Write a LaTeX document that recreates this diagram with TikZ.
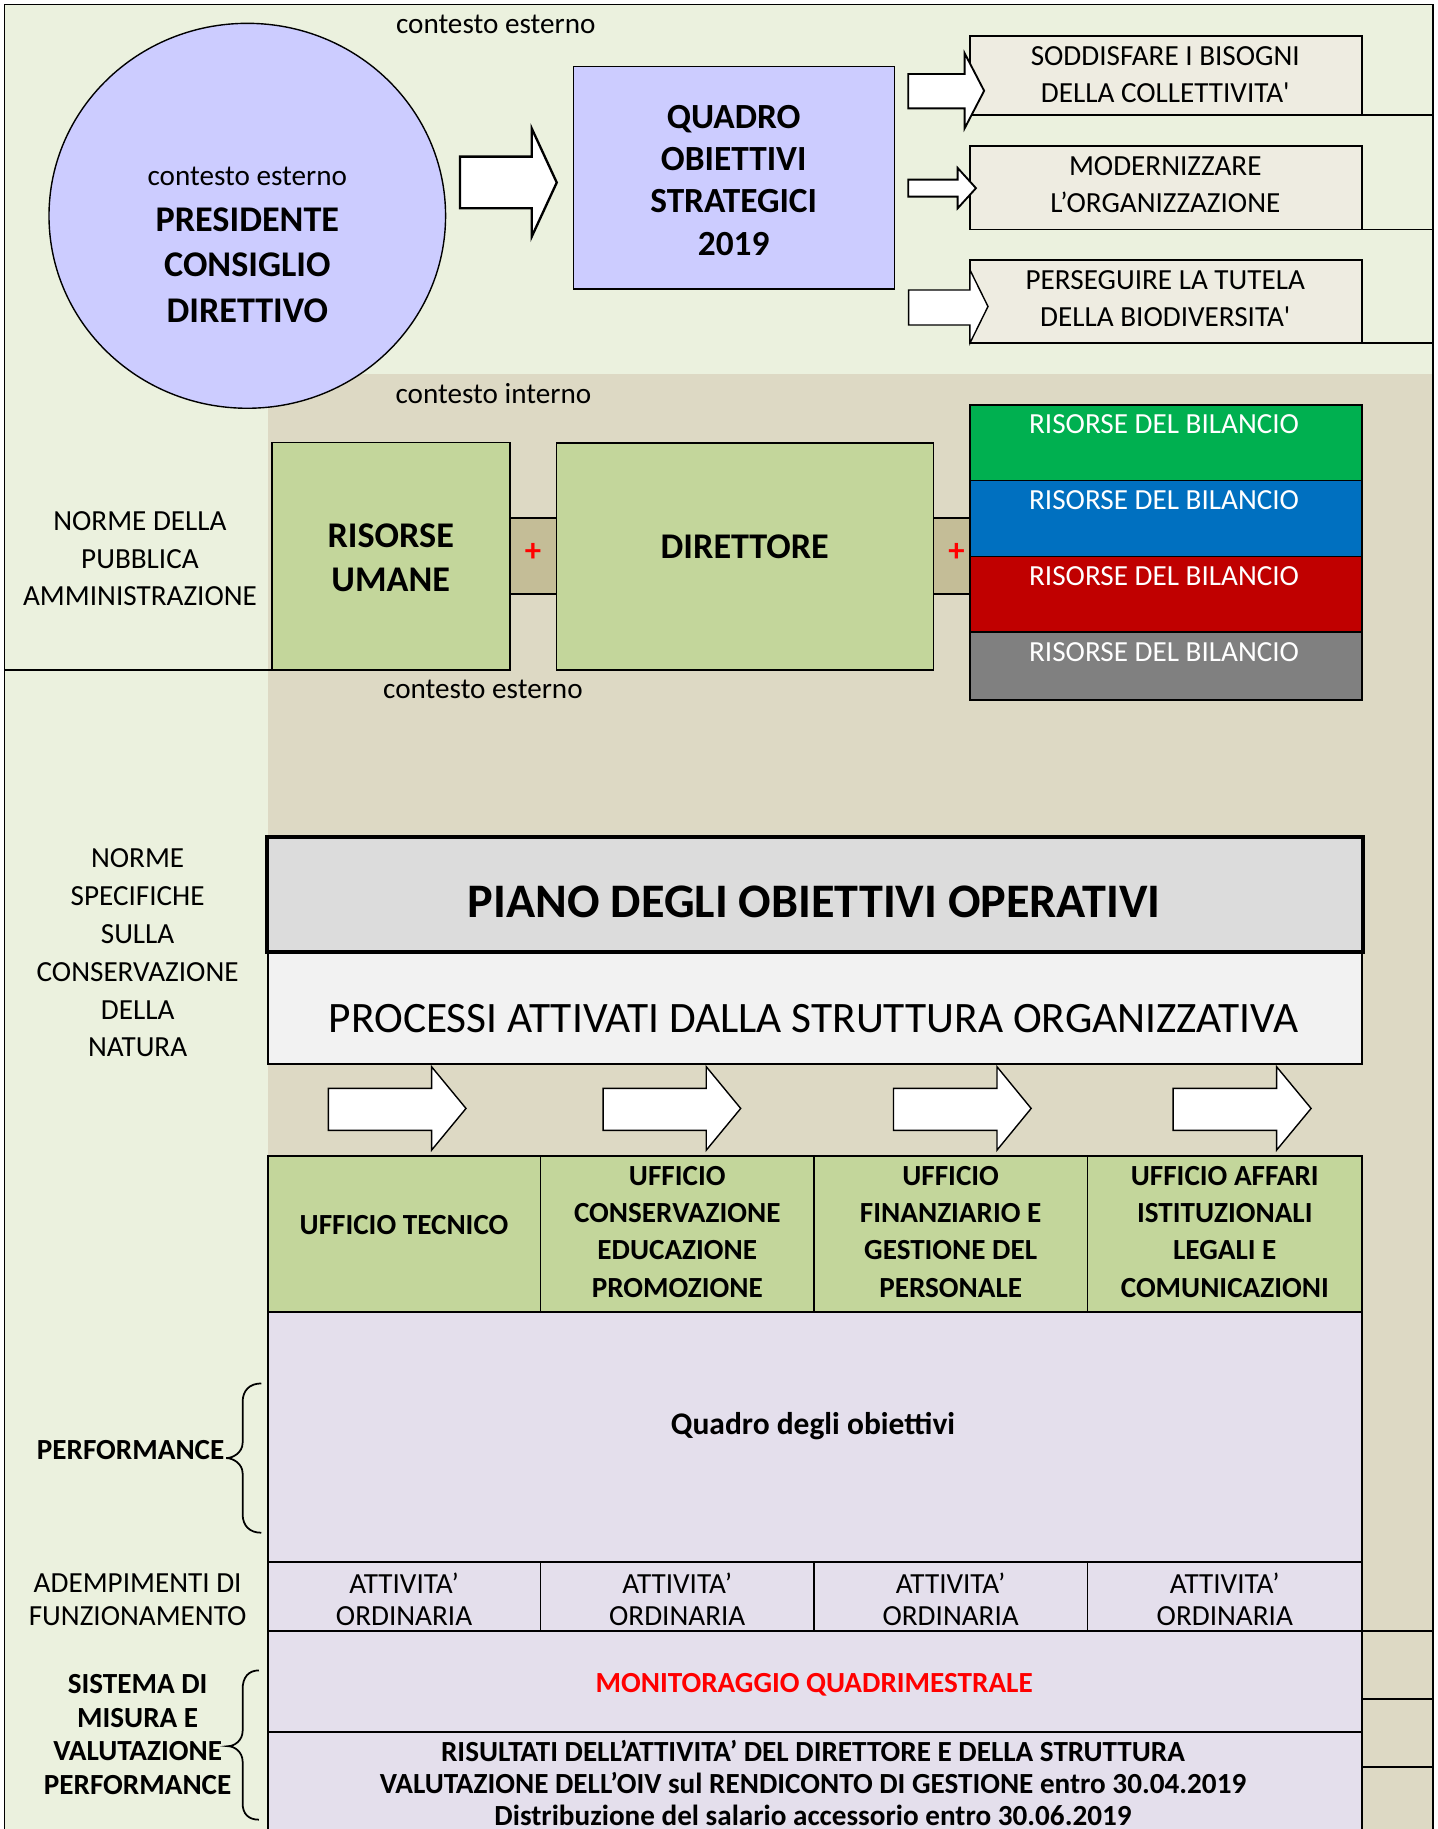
\documentclass[tikz,border=0pt]{standalone}
\usepackage{fontspec}
\setmainfont{Carlito}[Ligatures=TeXOff]
\usetikzlibrary{shapes.geometric}
\definecolor{bgGreen}{HTML}{EBF1DE}
\definecolor{bgTan}{HTML}{DDD9C4}
\definecolor{lav}{HTML}{CCCCFF}
\definecolor{beige}{HTML}{EEECE1}
\definecolor{olive}{HTML}{C3D69B}
\definecolor{plusTan}{HTML}{C4BD97}
\definecolor{pianoGray}{HTML}{DCDCDC}
\definecolor{procGray}{HTML}{F2F2F2}
\definecolor{lilac}{HTML}{E4DFEC}
\definecolor{bilG}{HTML}{00B050}
\definecolor{bilB}{HTML}{0070C0}
\definecolor{bilR}{HTML}{C00000}
\definecolor{bilK}{HTML}{808080}
\definecolor{txtRed}{HTML}{FF0000}
\newcommand\mybox[6]{%
  \pgfmathsetmacro\bw{#4-#2}\pgfmathsetmacro\bh{#5-#3}%
  \node[boxsty,#6,minimum width=\bw pt,minimum height=\bh pt] (#1) at ({(#2+#4)/2},{(#3+#5)/2}) {};}
\newcommand\blockarr[8][]{%
  \draw[arrowsty,#1] (#2,#3) -- (#5,#3) -- (#5,#6) -- (#8,{(#6+#7)/2}) -- (#5,#7) -- (#5,#4) -- (#2,#4) -- cycle;}
\begin{document}
\begin{tikzpicture}[x=1pt,y=-1pt,
  boxsty/.style={draw=black,line width=1.4pt,rectangle,inner sep=0pt},
  arrowsty/.style={fill=white,draw=black,line width=1.2pt,line join=miter},
  lbl/.style={inner sep=0pt,align=center,font=\fontsize{25}{32}\selectfont},
  blbl/.style={inner sep=0pt,align=center,font=\bfseries\fontsize{25}{32}\selectfont},
  bigb/.style={inner sep=0pt,align=center,font=\bfseries\fontsize{31}{38}\selectfont},
  wlbl/.style={lbl,text=white},
  bracesty/.style={draw=black,line width=1.5pt}]
\useasboundingbox (0,0) rectangle (1232,1568);
\clip (0,0) rectangle (1232,1568);
\fill[white] (0,0) rectangle (1232,1568);
% backgrounds
\fill[bgGreen] (4,4) rectangle (1228.6,1568);
\fill[bgTan] (230,320.7) rectangle (1228.6,1568);
% lines to right border
\draw[line width=1.4pt] (1167.7,98.6) -- (1228.6,98.6);
\draw[line width=1.4pt] (1167.7,196.6) -- (1228.6,196.6);
\draw[line width=1.4pt] (1167.7,294) -- (1228.6,294);
\draw[line width=1.4pt] (4,574.4) -- (233.4,574.4);
\draw[line width=1.4pt] (1167.7,1398) -- (1228.6,1398);
\draw[line width=1.4pt] (1167.7,1456.7) -- (1228.6,1456.7);
\draw[line width=1.4pt] (1167.7,1514.6) -- (1228.6,1514.6);
% ellipse
\node[ellipse,draw=black,line width=1.2pt,fill=lav,minimum width=340pt,minimum height=330pt,inner sep=0pt] (pres) at (212,185) {};
\node[lbl] (pres0) at (212,151) {contesto esterno};
\node[bigb] (pres1) at (212,188) {PRESIDENTE};
\node[bigb] (pres2) at (212,227) {CONSIGLIO};
\node[bigb] (pres3) at (212,266) {DIRETTIVO};
\node[lbl] (ceTop) at (425,21) {contesto esterno};
% quadro obiettivi strategici
\mybox{qos}{491.5}{57}{767}{248}{fill=lav}
\node[inner sep=0pt,align=center,font=\bfseries\fontsize{30.3}{36.3}\selectfont] (qosT) at (629,154.5) {QUADRO\\OBIETTIVI\\STRATEGICI\\2019};
\blockarr[line width=2pt]{394.4}{134.3}{178.6}{455.8}{110}{203}{477.3}
% right goal boxes
\mybox{g1}{831.6}{30.9}{1167.7}{98.6}{fill=beige}
\mybox{g2}{831.6}{125}{1167.7}{196.6}{fill=beige}
\mybox{g3}{831.6}{223}{1167.7}{294}{fill=beige}
\node[lbl] (g1T) at (999,64) {SODDISFARE I BISOGNI\\DELLA COLLETTIVITA'};
\node[lbl] (g2T) at (999,158.5) {MODERNIZZARE\\L’ORGANIZZAZIONE};
\node[lbl] (g3T) at (999,256) {PERSEGUIRE LA TUTELA\\DELLA BIODIVERSITA'};
\blockarr[line width=1.6pt]{778.6}{63.4}{92.9}{827}{45.7}{110}{843.7}
\blockarr[line width=1.6pt]{778.6}{154}{168.6}{821}{144}{178.6}{836.7}
\blockarr{779}{248.6}{278.6}{831.6}{231.5}{294}{847}
% internal context
\node[lbl] (ci) at (423,337) {contesto interno};
\node[lbl] (norme1) at (120,479) {NORME DELLA\\PUBBLICA\\AMMINISTRAZIONE};
\mybox{ru}{233.4}{379.5}{437}{574.4}{fill=olive}
\mybox{plusA}{437}{444}{477}{509}{fill=plusTan}
\mybox{dir}{477}{380}{800.3}{574.4}{fill=olive}
\mybox{plusB}{800.3}{444}{831.6}{509}{fill=plusTan}
\node[bigb] (ruT) at (335,478) {RISORSE\\UMANE};
\node[bigb] (dirT) at (638.5,469) {DIRETTORE};
\node[inner sep=0pt,text=txtRed,font=\bfseries\fontsize{28}{28}\selectfont] (plusAT) at (457,474) {+};
\node[inner sep=0pt,text=txtRed,font=\bfseries\fontsize{28}{28}\selectfont] (plusBT) at (820,474) {+};
\mybox{bil1}{831.6}{347}{1167.7}{412}{fill=bilG}
\mybox{bil2}{831.6}{412}{1167.7}{477}{fill=bilB}
\mybox{bil3}{831.6}{477}{1167.7}{542}{fill=bilR}
\mybox{bil4}{831.6}{542}{1167.7}{600}{fill=bilK}
\node[wlbl] (bil1T) at (998,364) {RISORSE DEL BILANCIO};
\node[wlbl] (bil2T) at (998,429) {RISORSE DEL BILANCIO};
\node[wlbl] (bil3T) at (998,494) {RISORSE DEL BILANCIO};
\node[wlbl] (bil4T) at (998,559) {RISORSE DEL BILANCIO};
\node[lbl] (ce2) at (414,591) {contesto esterno};
% left labels
\node[inner sep=0pt,align=center,font=\fontsize{25}{32.4}\selectfont] (norme2) at (118,817) {NORME\\SPECIFICHE\\SULLA\\CONSERVAZIONE\\DELLA\\NATURA};
% piano
\mybox{piano}{229.8}{718.5}{1167.7}{815.5}{fill=pianoGray,line width=2.3pt}
\mybox{proc}{229.8}{815.5}{1167.7}{912}{fill=procGray}
\node[inner sep=0pt,font=\bfseries\fontsize{41.3}{41.3}\selectfont] (pianoT) at (698,773) {PIANO DEGLI OBIETTIVI OPERATIVI};
\node[inner sep=0pt,font=\fontsize{37.2}{37.2}\selectfont] (procT) at (697.5,873.5) {PROCESSI ATTIVATI DALLA STRUTTURA ORGANIZZATIVA};
\draw[line width=2.3pt] (piano.north west) rectangle (piano.south east);
\blockarr{281.5}{933}{969}{370}{914.5}{986}{399.5}
\blockarr{517}{933}{969}{605.5}{914.5}{986}{635}
\blockarr{766}{933}{969}{854.7}{914.5}{986}{884}
\blockarr{1005.7}{933}{969}{1094.4}{914.5}{986}{1124}
% offices
\mybox{u1}{229.5}{991}{463.3}{1124.5}{fill=olive}
\mybox{u2}{463.3}{991}{697.9}{1124.5}{fill=olive}
\mybox{u3}{697.9}{991}{932.2}{1124.5}{fill=olive}
\mybox{u4}{932.2}{991}{1167.7}{1124.5}{fill=olive}
\node[blbl] (u1T) at (346.4,1050) {UFFICIO TECNICO};
\node[blbl] (u2T) at (580.6,1056) {UFFICIO\\CONSERVAZIONE\\EDUCAZIONE\\PROMOZIONE};
\node[blbl] (u3T) at (815,1056) {UFFICIO\\FINANZIARIO E\\GESTIONE DEL\\PERSONALE};
\node[blbl] (u4T) at (1050,1056) {UFFICIO AFFARI\\ISTITUZIONALI\\LEGALI E\\COMUNICAZIONI};
% quadro obiettivi
\mybox{qo}{229.5}{1124.5}{1167.7}{1339}{fill=lilac}
\node[inner sep=0pt,font=\bfseries\fontsize{27}{27}\selectfont] (qoT) at (697,1223) {Quadro degli obiettivi};
\mybox{a1}{229.5}{1339}{463.3}{1398}{fill=lilac}
\mybox{a2}{463.3}{1339}{697.9}{1398}{fill=lilac}
\mybox{a3}{697.9}{1339}{932.2}{1398}{fill=lilac}
\mybox{a4}{932.2}{1339}{1167.7}{1398}{fill=lilac}
\node[inner sep=0pt,align=center,font=\fontsize{25}{28}\selectfont] (a1T) at (346.4,1371) {ATTIVITA’\\ORDINARIA};
\node[inner sep=0pt,align=center,font=\fontsize{25}{28}\selectfont] (a2T) at (580.6,1371) {ATTIVITA’\\ORDINARIA};
\node[inner sep=0pt,align=center,font=\fontsize{25}{28}\selectfont] (a3T) at (815,1371) {ATTIVITA’\\ORDINARIA};
\node[inner sep=0pt,align=center,font=\fontsize{25}{28}\selectfont] (a4T) at (1050,1371) {ATTIVITA’\\ORDINARIA};
\mybox{mon}{229.5}{1398}{1167.7}{1485}{fill=lilac}
\node[blbl,text=txtRed] (monT) at (698,1444) {MONITORAGGIO QUADRIMESTRALE};
\mybox{ris}{229.5}{1485}{1167.7}{1610}{fill=lilac}
\node[inner sep=0pt,align=center,font=\bfseries\fontsize{25}{27.3}\selectfont] (risT) at (697,1528.5) {RISULTATI DELL’ATTIVITA’ DEL DIRETTORE E DELLA STRUTTURA\\VALUTAZIONE DELL’OIV sul RENDICONTO DI GESTIONE entro 30.04.2019\\Distribuzione del salario accessorio entro 30.06.2019};
% left labels lower
\node[blbl] (perfT) at (112,1243) {PERFORMANCE};
\node[inner sep=0pt,align=center,font=\fontsize{25}{29}\selectfont] (adT) at (118,1371.5) {ADEMPIMENTI DI\\FUNZIONAMENTO};
\node[inner sep=0pt,align=center,font=\bfseries\fontsize{25}{28.7}\selectfont] (sisT) at (118,1487) {SISTEMA DI\\MISURA E\\VALUTAZIONE\\PERFORMANCE};
% braces
\draw[bracesty] (224,1186) .. controls (214,1186) and (208,1192) .. (208,1202) -- (208,1237) .. controls (208,1245) and (200,1250) .. (194,1250) .. controls (200,1250) and (208,1255) .. (208,1263) -- (208,1298) .. controls (208,1308) and (214,1314) .. (224,1314);
\draw[bracesty] (222,1432) .. controls (213,1432) and (208,1438) .. (208,1448) -- (208,1484) .. controls (208,1492) and (201,1497) .. (195.5,1497) .. controls (201,1497) and (208,1502) .. (208,1510) -- (208,1546) .. controls (208,1555) and (213,1560) .. (222,1560);
% outer border
\draw[line width=1.4pt] (4,1568) -- (4,4) -- (1228.6,4) -- (1228.6,1568);
\end{tikzpicture}
\end{document}
